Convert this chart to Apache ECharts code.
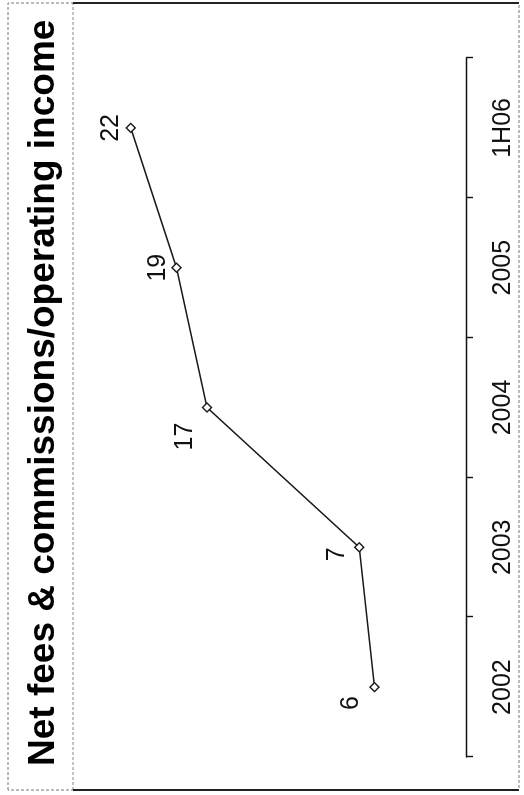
<!DOCTYPE html>
<html>
<head>
<meta charset="utf-8">
<script src="https://cdn.jsdelivr.net/npm/echarts@6/dist/echarts.min.js"></script>
<style>
  html, body { margin: 0; padding: 0; background: #fff; width: 524px; height: 795px; overflow: hidden; }
  #wrap { position: absolute; left: 0; top: 795px; width: 795px; height: 524px; transform-origin: 0 0; transform: rotate(-90deg); }
  #chart { width: 795px; height: 524px; }
</style>
</head>
<body>
<div id="wrap"><div id="chart"></div></div>
<script>
const titleText = 'Net fees & commissions/operating income';
const categories = ['2002', '2003', '2004', '2005', '1H06'];
const values = [6, 7, 17, 19, 22];
const labelOffsets = [[-16, -2], [-7, -1], [-29, 0], [0, 3], [0, 2]];

const chart = echarts.init(document.getElementById('chart'), null, { renderer: 'canvas' });
const font = "'Liberation Sans', Arial, sans-serif";

const option = {
  backgroundColor: '#ffffff',
  animation: false,
  title: {
    text: titleText,
    left: 24,
    top: 20,
    textStyle: { fontSize: 37, fontWeight: 'bold', color: '#000', fontFamily: font }
  },
  grid: { left: 38, right: 58, top: 85, bottom: 58, containLabel: false },
  xAxis: {
    type: 'category',
    data: categories,
    boundaryGap: true,
    axisLine: { show: true, lineStyle: { color: '#111', width: 1.4 } },
    axisTick: { show: true, length: 7, lineStyle: { color: '#111', width: 1.4 } },
    axisLabel: { fontSize: 25, color: '#111', margin: 25, fontFamily: font },
    splitLine: { show: false }
  },
  yAxis: {
    type: 'value',
    min: 0,
    max: 25,
    show: false
  },
  series: [{
    type: 'line',
    data: values.map((v, i) => ({
      value: v,
      label: { offset: labelOffsets[i] }
    })),
    symbol: 'diamond',
    symbolSize: 9,
    showAllSymbol: true,
    lineStyle: { color: '#1a1a1a', width: 1.5 },
    itemStyle: { color: '#fff', borderColor: '#1a1a1a', borderWidth: 1.4 },
    label: {
      show: true,
      position: 'top',
      distance: 4,
      fontSize: 25,
      color: '#111',
      fontFamily: font
    }
  }],
  graphic: [
    { type: 'rect', shape: { x: 5, y: 8, width: 787, height: 511 }, style: { fill: 'none', stroke: '#777', lineWidth: 1, lineDash: [3, 2] }, silent: true },
    { type: 'line', shape: { x1: 5, y1: 73, x2: 792, y2: 73 }, style: { stroke: '#888', lineWidth: 1, lineDash: [3, 2] }, silent: true },
    { type: 'line', shape: { x1: 792, y1: 73, x2: 792, y2: 519 }, style: { stroke: '#222', lineWidth: 2 }, silent: true },
    { type: 'line', shape: { x1: 5, y1: 73, x2: 5, y2: 519 }, style: { stroke: '#222', lineWidth: 2 }, silent: true }
  ]
};
chart.setOption(option);
</script>
</body>
</html>
